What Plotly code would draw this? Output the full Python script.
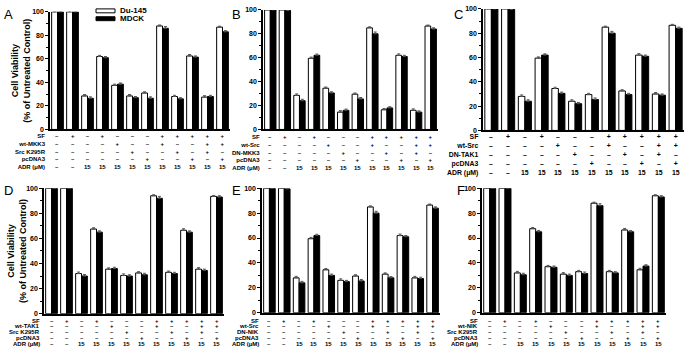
import plotly.graph_objects as go

W, H = 685, 351
groups = list(range(12))

# ---------------- data ----------------
du145_A = [100, 100, 28.5, 62, 37.5, 28.5, 31, 88, 28, 62.5, 27.5, 87]
mdck_A = [100, 100, 26.5, 61, 38.5, 27, 26.5, 86, 26, 61.5, 28, 83]
du145_B = [100, 100, 28.5, 59.5, 34.5, 14.5, 29.5, 85, 16.5, 62, 16, 86.5]
mdck_B = [100, 99.5, 24, 62, 30.5, 16, 25.5, 80, 18, 61, 14.5, 84]
du145_C = [100, 100, 28, 59.5, 34.5, 24, 29.5, 85, 32.5, 62, 30, 86.5]
mdck_C = [100, 99.5, 24, 62, 30.5, 22, 25.5, 80, 29.5, 61, 29, 84]
du145_D = [100, 100, 32, 67.5, 35.5, 30.5, 32.5, 94, 33, 66.5, 35.5, 93.5]
mdck_D = [100, 100, 30, 65, 36, 30, 31, 92, 32, 65, 34.5, 93]
du145_E = [100, 100, 28, 59.5, 34.5, 26, 29.5, 85, 31, 62, 28, 86.5]
mdck_E = [100, 99.5, 24, 62, 30, 25, 25.5, 80, 28, 61, 27.5, 84]
du145_F = [100, 100, 32, 67.5, 37, 31, 33, 88, 33, 66.5, 34.5, 94]
mdck_F = [100, 100, 30.5, 65, 36.5, 30, 31.5, 86, 32, 65, 37.5, 93]

err_du145 = [0.8, 0.8, 1.2, 1.0, 1.0, 1.2, 1.0, 0.8, 1.0, 1.2, 1.2, 0.8]
err_mdck = [0.8, 1.2, 1.2, 1.0, 1.0, 1.0, 1.2, 1.5, 1.0, 1.0, 1.0, 1.0]

sf_row = ["–", "+", "–", "+", "–", "–", "–", "+", "+", "+", "+", "+"]
r2_row = ["–", "–", "–", "–", "+", "–", "–", "+", "–", "–", "+", "+"]
r3_row = ["–", "–", "–", "–", "–", "+", "–", "–", "+", "–", "+", "–"]
r4_row = ["–", "–", "–", "–", "–", "–", "+", "–", "–", "+", "–", "+"]
adr_row = ["–", "–", "15", "15", "15", "15", "15", "15", "15", "15", "15", "15"]

labels_A = ["SF", "wt-MKK3", "Src K295R", "pcDNA3", "ADR (μM)"]
labels_B = ["SF", "wt-Src", "DN-MKK3", "pcDNA3", "ADR (μM)"]
labels_C = ["SF", "wt-Src", "DN-TAK1", "pcDNA3", "ADR (μM)"]
labels_D = ["SF", "wt-TAK1", "Src K295R", "pcDNA3", "ADR (μM)"]
labels_E = ["SF", "wt-Src", "DN-NIK", "pcDNA3", "ADR (μM)"]
labels_F = ["SF", "wt-NIK", "Src K295R", "pcDNA3", "ADR (μM)"]

# ---------------- layout geometry (pixels) ----------------
BOT_ROWS = [323, 329, 335, 341, 347]
panels = [
    ("A", du145_A, mdck_A, labels_A, 50, 230, 8, 128, 150.5, 47, 6.0, (2, 1)),
    ("B", du145_B, mdck_B, labels_B, 263, 438, 6, 128, 151.5, 261, 6.0, (230, 1)),
    ("C", du145_C, mdck_C, labels_C, 483, 684, 5, 129, 154, 480, 6.9, (452, 1)),
    ("D", du145_D, mdck_D, labels_D, 44, 224, 188, 316, BOT_ROWS, 41, 6, (2, 181)),
    ("E", du145_E, mdck_E, labels_E, 262, 440, 188, 315, BOT_ROWS, 260, 6, (230, 181)),
    ("F", du145_F, mdck_F, labels_F, 482, 666, 188, 315, BOT_ROWS, 479, 6, (455, 181)),
]

FONT = "Liberation Sans, Arial, sans-serif"
fig = go.Figure()
layout = dict(
    width=W, height=H, margin=dict(l=0, r=0, t=0, b=0),
    paper_bgcolor="white", plot_bgcolor="white",
    showlegend=False, barmode="group", bargap=0.22, bargroupgap=0.0,
    font=dict(family=FONT, color="black"),
)
annotations = []
shapes = []
rows = [sf_row, r2_row, r3_row, r4_row, adr_row]

for i, (letter, du, md, labs, x0, x1, yt, yb, ty, lr, fs, lpos) in enumerate(panels):
    k = "" if i == 0 else str(i + 1)
    xa, ya = "x" + k, "y" + k
    fig.add_trace(go.Bar(
        x=groups, y=du, name="Du-145", xaxis=xa, yaxis=ya,
        marker=dict(color="white", line=dict(color="black", width=1)),
        error_y=dict(type="data", symmetric=False, array=err_du145,
                     arrayminus=[0] * 12, color="#555", thickness=1, width=1.5),
        cliponaxis=False,
    ))
    fig.add_trace(go.Bar(
        x=groups, y=md, name="MDCK", xaxis=xa, yaxis=ya,
        marker=dict(color="black", line=dict(color="black", width=1)),
        error_y=dict(type="data", symmetric=False, array=err_mdck,
                     arrayminus=[0] * 12, color="#555", thickness=1, width=1.5),
        cliponaxis=False,
    ))
    layout["xaxis" + k] = dict(
        domain=[x0 / W, x1 / W], anchor=ya, range=[-0.5, 11.5],
        showline=True, linecolor="black", linewidth=1.5, ticks="",
        showticklabels=False, showgrid=False, zeroline=False,
    )
    layout["yaxis" + k] = dict(
        domain=[1 - yb / H, 1 - yt / H], anchor=xa, range=[0, 100],
        showline=True, linecolor="black", linewidth=1.5,
        ticks="outside", ticklen=3, tickwidth=1, tickcolor="black",
        tickvals=[0, 20, 40, 60, 80, 100],
        tickfont=dict(family=FONT, size=7, weight="bold"),
        minor=dict(ticks="outside", ticklen=2, dtick=10, tickcolor="black"),
        showgrid=False, zeroline=False,
    )
    annotations.append(dict(
        text=letter, xref="paper", yref="paper", x=lpos[0] / W, y=1 - lpos[1] / H,
        xanchor="left", yanchor="top", showarrow=False,
        font=dict(family=FONT, size=13, color="black"),
    ))
    tfont = dict(family=FONT, size=fs, weight="bold", color="black")
    if isinstance(ty, list):
        for r, ry in enumerate(ty):
            annotations.append(dict(
                text=labs[r], xref="paper", yref="paper", x=lr / W, y=1 - ry / H,
                xanchor="right", yanchor="middle", showarrow=False,
                borderpad=0, font=tfont,
            ))
            for g in groups:
                annotations.append(dict(
                    text=rows[r][g], xref=xa, yref="paper", x=g, y=1 - ry / H,
                    xanchor="center", yanchor="middle", showarrow=False,
                    borderpad=0, font=tfont,
                ))
    else:
        annotations.append(dict(
            text="<br>".join(labs), xref="paper", yref="paper", x=lr / W, y=1 - ty / H,
            xanchor="right", yanchor="middle", align="right", showarrow=False,
            borderpad=0, font=tfont,
        ))
        for g in groups:
            col = "<br>".join(row[g] for row in rows)
            annotations.append(dict(
                text=col, xref=xa, yref="paper", x=g, y=1 - ty / H,
                xanchor="center", yanchor="middle", align="center", showarrow=False,
                borderpad=0, font=tfont,
            ))

# y-axis titles (panels A and D)
for cx, cy in [(21, 68), (17, 252)]:
    annotations.append(dict(
        text="Cell Viability<br>(% of Untreated Control)", xref="paper", yref="paper",
        x=cx / W, y=1 - cy / H, xanchor="center", yanchor="middle",
        showarrow=False, textangle=-90,
        font=dict(family=FONT, size=9, weight="bold", color="black"),
    ))

# legend (panel A)
shapes.append(dict(type="rect", xref="paper", yref="paper",
                   x0=96 / W, x1=115 / W, y0=1 - 9 / H, y1=1 - 5 / H,
                   fillcolor="white", line=dict(color="black", width=1)))
shapes.append(dict(type="rect", xref="paper", yref="paper",
                   x0=96 / W, x1=115 / W, y0=1 - 17 / H, y1=1 - 13 / H,
                   fillcolor="black", line=dict(color="black", width=1)))
for t, ly in [("Du-145", 7), ("MDCK", 15)]:
    annotations.append(dict(
        text=t, xref="paper", yref="paper", x=119 / W, y=1 - ly / H,
        xanchor="left", yanchor="middle", showarrow=False, borderpad=0,
        font=dict(family=FONT, size=8, weight="bold", color="black"),
    ))

layout["annotations"] = annotations
layout["shapes"] = shapes
fig.update_layout(**layout)
fig.write_html(
    "out.html",
    config={"displayModeBar": False},
    post_script="document.body.style.margin='0';document.body.style.padding='0';"
                "document.body.style.overflow='hidden';",
)
